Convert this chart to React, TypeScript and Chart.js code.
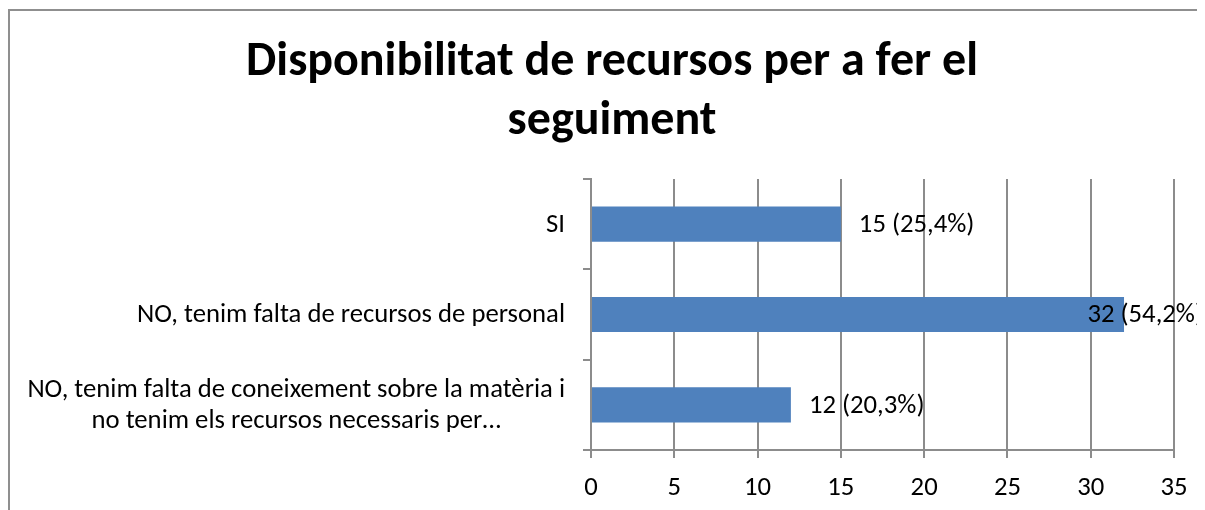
import React, { useEffect, useRef } from "react";
import { Chart, registerables } from "chart.js";

Chart.register(...registerables);

const titleLines = ["Disponibilitat de recursos per a fer el", "seguiment"];
const categories: string[][] = [
  ["SI"],
  ["NO, tenim falta de recursos de personal"],
  ["NO, tenim falta de coneixement sobre la matèria i", "no tenim els recursos necessaris per…"],
];
const values = [15, 32, 12];
const percents = ["25,4%", "54,2%", "20,3%"];
const xMin = 0;
const xMax = 35;
const xStep = 5;

const FONT = "Carlito, Calibri, Lato, sans-serif";
const LABEL_SIZE = 26.7;
const GRID = "#8c8c8c";
const BAR = "#4f81bd";

const yLabelPlugin = {
  id: "yLabels",
  afterDraw(chart: any) {
    const ctx = chart.ctx;
    const y = chart.scales.y;
    const left = chart.chartArea.left;
    ctx.save();
    ctx.font = `${LABEL_SIZE}px ${FONT}`;
    ctx.fillStyle = "#000";
    ctx.textBaseline = "middle";
    ctx.textAlign = "center";
    const lh = 30.5;
    categories.forEach((lines, i) => {
      const cy = y.getPixelForValue(i) + 1;
      const maxW = Math.max(...lines.map((l) => ctx.measureText(l).width));
      const right = left - 26;
      const cx = right - maxW / 2;
      const start = cy - ((lines.length - 1) * lh) / 2;
      lines.forEach((l, j) => ctx.fillText(l, cx, start + j * lh));
    });
    ctx.restore();
  },
};

const valueLabelPlugin = {
  id: "valueLabels",
  afterDatasetsDraw(chart: any) {
    const ctx = chart.ctx;
    const meta = chart.getDatasetMeta(0);
    ctx.save();
    ctx.font = `${LABEL_SIZE}px ${FONT}`;
    ctx.fillStyle = "#000";
    ctx.textBaseline = "middle";
    ctx.textAlign = "left";
    meta.data.forEach((bar: any, i: number) => {
      const text = `${values[i]} (${percents[i]})`;
      const w = ctx.measureText(text).width;
      const x = Math.min(bar.x + 18, chart.width - w - 1);
      ctx.fillText(text, x, bar.y + 1);
    });
    ctx.restore();
  },
};

export default function App() {
  const ref = useRef<HTMLCanvasElement | null>(null);
  useEffect(() => {
    if (!ref.current) return;
    const chart = new Chart(ref.current, {
      type: "bar",
      data: {
        labels: categories as any,
        datasets: [
          {
            data: values,
            backgroundColor: BAR,
            borderWidth: 0,
            barPercentage: 0.39,
            categoryPercentage: 1,
          },
        ],
      },
      options: {
        indexAxis: "y",
        responsive: false,
        animation: false,
        layout: { padding: { left: 41, right: 30, top: 0, bottom: 0 } },
        plugins: {
          legend: { display: false },
          tooltip: { enabled: false },
          title: {
            display: true,
            text: titleLines,
            color: "#000",
            font: { family: FONT, size: 48, weight: "bold", lineHeight: 59 / 48 },
            padding: { top: 23, bottom: 28 },
          },
        },
        scales: {
          x: {
            type: "linear",
            min: xMin,
            max: xMax,
            ticks: {
              stepSize: xStep,
              color: "#000",
              font: { family: FONT, size: LABEL_SIZE },
              padding: 14,
            },
            grid: { color: GRID, lineWidth: 2, tickLength: 8, drawTicks: true },
            border: { color: GRID, width: 2 },
            afterFit: (s: any) => {
              s.height = 60;
            },
          },
          y: {
            type: "category",
            ticks: { display: false },
            grid: {
              color: GRID,
              lineWidth: 2,
              tickLength: 8,
              drawOnChartArea: false,
              drawTicks: true,
              offset: true,
            },
            border: { color: GRID, width: 2 },
            afterFit: (s: any) => {
              s.width = 541;
            },
          },
        },
      },
      plugins: [valueLabelPlugin, yLabelPlugin],
    });
    return () => chart.destroy();
  }, []);

  return (
    <div style={{ width: 1197, height: 502, overflow: "hidden" }}>
      <div
        style={{
          position: "relative",
          marginTop: 1,
          width: 1300,
          height: 600,
          boxSizing: "border-box",
          borderTop: "2px solid #8f8f8f",
          borderLeft: "2px solid #8f8f8f",
        }}
      >
        <canvas
          ref={ref}
          width={1195}
          height={500}
          style={{ position: "absolute", left: -1, top: -1, display: "block" }}
        />
      </div>
    </div>
  );
}
